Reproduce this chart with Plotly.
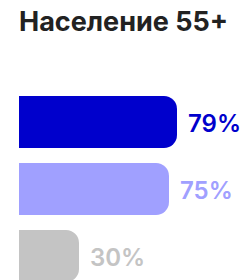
import plotly.graph_objects as go

categories = ["A", "B", "C"]
values = [79, 75, 30]
labels = ["79%", "75%", "30%"]
colors = ["#0000CC", "#A0A0FF", "#C4C4C4"]
title = "Население 55+"

fig = go.Figure()
fig.add_trace(go.Bar(
    x=values, y=categories, orientation="h",
    marker=dict(color=colors, line=dict(width=0), cornerradius=13),
    width=0.776, hoverinfo="skip",
))
for c, v, t, col in zip(categories, values, labels, colors):
    fig.add_annotation(x=v, y=c, text=t, showarrow=False, xanchor="left",
                       xshift=9, yshift=-1,
                       font=dict(family="Inter", size=24, color=col, weight=600))

fig.add_annotation(text=title, xref="paper", yref="paper", x=0, y=1,
                   xanchor="left", yanchor="top", xshift=-2, yshift=-3,
                   showarrow=False,
                   font=dict(family="Inter", size=27, color="#222222", weight=700))

fig.update_layout(
    width=245, height=280,
    margin=dict(l=19, r=0, t=0, b=0, autoexpand=False),
    paper_bgcolor="white", plot_bgcolor="white",
    showlegend=False,
    xaxis=dict(range=[0, 113], visible=False, fixedrange=True),
    yaxis=dict(range=[2.358, -1.821], visible=False, fixedrange=True,
               categoryorder="array", categoryarray=categories),
)
fig.write_html("out.html", config={"displayModeBar": False},
               post_script="document.body.style.margin='0px';")
